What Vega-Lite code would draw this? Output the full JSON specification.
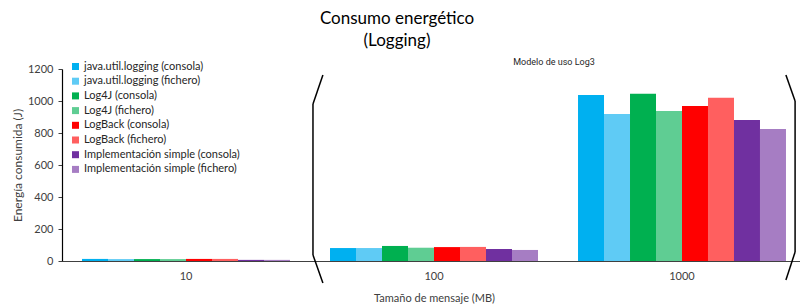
{
  "$schema": "https://vega.github.io/schema/vega-lite/v6.json",
  "width": 738,
  "height": 192,
  "autosize": {"type": "none"},
  "padding": {"left": 62, "top": 69, "right": 0, "bottom": 44},
  "background": "white",
  "config": {
    "view": {"stroke": null},
    "font": "Lato",
    "axisY": {"labelOverlap": false, "grid": false}
  },
  "title": {
    "text": ["Consumo energético", "(Logging)"],
    "fontSize": 17,
    "fontWeight": "normal",
    "font": "Lato",
    "lineHeight": 22,
    "color": "#000000",
    "offset": 8,
    "dx": -34
  },
  "data": {
    "values": [
      {"size": "10", "impl": "java.util.logging (consola)", "energy": 13},
      {"size": "10", "impl": "java.util.logging (fichero)", "energy": 12},
      {"size": "10", "impl": "Log4J (consola)", "energy": 12},
      {"size": "10", "impl": "Log4J (fichero)", "energy": 12},
      {"size": "10", "impl": "LogBack (consola)", "energy": 13},
      {"size": "10", "impl": "LogBack (fichero)", "energy": 13},
      {"size": "10", "impl": "Implementación simple (consola)", "energy": 7},
      {"size": "10", "impl": "Implementación simple (fichero)", "energy": 7},
      {"size": "100", "impl": "java.util.logging (consola)", "energy": 81},
      {"size": "100", "impl": "java.util.logging (fichero)", "energy": 81},
      {"size": "100", "impl": "Log4J (consola)", "energy": 94},
      {"size": "100", "impl": "Log4J (fichero)", "energy": 83},
      {"size": "100", "impl": "LogBack (consola)", "energy": 87},
      {"size": "100", "impl": "LogBack (fichero)", "energy": 88},
      {"size": "100", "impl": "Implementación simple (consola)", "energy": 75},
      {"size": "100", "impl": "Implementación simple (fichero)", "energy": 69},
      {"size": "1000", "impl": "java.util.logging (consola)", "energy": 1037},
      {"size": "1000", "impl": "java.util.logging (fichero)", "energy": 919},
      {"size": "1000", "impl": "Log4J (consola)", "energy": 1046},
      {"size": "1000", "impl": "Log4J (fichero)", "energy": 937},
      {"size": "1000", "impl": "LogBack (consola)", "energy": 969},
      {"size": "1000", "impl": "LogBack (fichero)", "energy": 1021},
      {"size": "1000", "impl": "Implementación simple (consola)", "energy": 881},
      {"size": "1000", "impl": "Implementación simple (fichero)", "energy": 825}
    ]
  },
  "encoding": {
    "x": {
      "field": "size",
      "type": "nominal",
      "sort": ["10", "100", "1000"],
      "scale": {"range": [0, 744], "paddingInner": 0, "paddingOuter": 0},
      "axis": {
        "title": "Tamaño de mensaje (MB)",
        "titleFont": "Lato",
        "titleFontSize": 11,
        "titleFontWeight": "normal",
        "titleColor": "#404040",
        "titlePadding": 11,
        "labelAngle": 0,
        "labelFont": "Lato",
        "labelFontSize": 11,
        "labelColor": "#404040",
        "labelPadding": 9,
        "ticks": false,
        "domainColor": "#404040",
        "domainWidth": 1.2
      }
    }
  },
  "layer": [
    {
      "mark": {"type": "bar"},
      "encoding": {
        "xOffset": {
          "field": "impl",
          "type": "nominal",
          "sort": [
            "java.util.logging (consola)",
            "java.util.logging (fichero)",
            "Log4J (consola)",
            "Log4J (fichero)",
            "LogBack (consola)",
            "LogBack (fichero)",
            "Implementación simple (consola)",
            "Implementación simple (fichero)"
          ],
          "scale": {"paddingInner": 0, "paddingOuter": 0.77}
        },
        "y": {
          "field": "energy",
          "type": "quantitative",
          "scale": {"domain": [0, 1200]},
          "axis": {
            "title": "Energía consumida (J)",
            "titleFont": "Lato",
            "titleFontSize": 12,
            "titleFontWeight": "normal",
            "titleColor": "#404040",
            "titlePadding": 3,
            "values": [0, 200, 400, 600, 800, 1000, 1200],
            "format": "d",
            "labelOverlap": false,
            "labelFont": "Lato",
            "labelFontSize": 11,
            "labelColor": "#404040",
            "labelPadding": 5,
            "tickSize": 4,
            "tickColor": "#404040",
            "domainColor": "#000000",
            "domainWidth": 1.2,
            "grid": false
          }
        },
        "color": {
          "field": "impl",
          "type": "nominal",
          "sort": [
            "java.util.logging (consola)",
            "java.util.logging (fichero)",
            "Log4J (consola)",
            "Log4J (fichero)",
            "LogBack (consola)",
            "LogBack (fichero)",
            "Implementación simple (consola)",
            "Implementación simple (fichero)"
          ],
          "scale": {
            "domain": [
              "java.util.logging (consola)",
              "java.util.logging (fichero)",
              "Log4J (consola)",
              "Log4J (fichero)",
              "LogBack (consola)",
              "LogBack (fichero)",
              "Implementación simple (consola)",
              "Implementación simple (fichero)"
            ],
            "range": ["#00B0F0", "#5FCBF5", "#00B050", "#5FCD93", "#FF0000", "#FF5F5F", "#7030A0", "#A67DC3"]
          },
          "legend": {
            "title": null,
            "orient": "none",
            "legendX": 8,
            "legendY": -8,
            "symbolType": "square",
            "symbolSize": 49,
            "symbolStrokeWidth": 0,
            "labelFont": "Lato",
            "labelFontSize": 11,
            "labelColor": "#262626",
            "rowPadding": 2.7,
            "labelOffset": 3
          }
        }
      }
    },
    {
      "data": {"values": [{}]},
      "mark": {"type": "text", "font": "Roboto", "fontSize": 9, "fontWeight": "normal", "color": "#262626", "baseline": "bottom", "dx": -4, "dy": -2},
      "encoding": {
        "x": {"datum": "1000", "bandPosition": 0},
        "y": {"datum": 1200, "type": "quantitative", "axis": {"labelOverlap": false, "values": [0, 200, 400, 600, 800, 1000, 1200]}},
        "text": {"value": "Modelo de uso Log3"}
      }
    },
    {
      "data": {"values": [{}]},
      "mark": {"type": "rule", "color": "#000000", "strokeWidth": 1.5},
      "encoding": {
        "x": {"datum": "100", "bandPosition": 0.052},
        "x2": {"datum": "100", "bandPosition": 0.012},
        "y": {"datum": 1162, "type": "quantitative", "axis": {"labelOverlap": false, "values": [0, 200, 400, 600, 800, 1000, 1200]}},
        "y2": {"datum": 981}
      }
    },
    {
      "data": {"values": [{}]},
      "mark": {"type": "rule", "color": "#000000", "strokeWidth": 1.5},
      "encoding": {
        "x": {"datum": "100", "bandPosition": 0.012},
        "y": {"datum": 981, "type": "quantitative", "axis": {"labelOverlap": false, "values": [0, 200, 400, 600, 800, 1000, 1200]}},
        "y2": {"datum": 37}
      }
    },
    {
      "data": {"values": [{}]},
      "mark": {"type": "rule", "color": "#000000", "strokeWidth": 1.5},
      "encoding": {
        "x": {"datum": "100", "bandPosition": 0.012},
        "x2": {"datum": "100", "bandPosition": 0.052},
        "y": {"datum": 37, "type": "quantitative", "axis": {"labelOverlap": false, "values": [0, 200, 400, 600, 800, 1000, 1200]}},
        "y2": {"datum": -137}
      }
    },
    {
      "data": {"values": [{}]},
      "mark": {"type": "rule", "color": "#000000", "strokeWidth": 1.5},
      "encoding": {
        "x": {"datum": "1000", "bandPosition": 0.919},
        "x2": {"datum": "1000", "bandPosition": 0.956},
        "y": {"datum": 1162, "type": "quantitative", "axis": {"labelOverlap": false, "values": [0, 200, 400, 600, 800, 1000, 1200]}},
        "y2": {"datum": 1000}
      }
    },
    {
      "data": {"values": [{}]},
      "mark": {"type": "rule", "color": "#000000", "strokeWidth": 1.5},
      "encoding": {
        "x": {"datum": "1000", "bandPosition": 0.956},
        "y": {"datum": 1000, "type": "quantitative", "axis": {"labelOverlap": false, "values": [0, 200, 400, 600, 800, 1000, 1200]}},
        "y2": {"datum": 56}
      }
    },
    {
      "data": {"values": [{}]},
      "mark": {"type": "rule", "color": "#000000", "strokeWidth": 1.5},
      "encoding": {
        "x": {"datum": "1000", "bandPosition": 0.956},
        "x2": {"datum": "1000", "bandPosition": 0.919},
        "y": {"datum": 56, "type": "quantitative", "axis": {"labelOverlap": false, "values": [0, 200, 400, 600, 800, 1000, 1200]}},
        "y2": {"datum": -119}
      }
    }
  ]
}
